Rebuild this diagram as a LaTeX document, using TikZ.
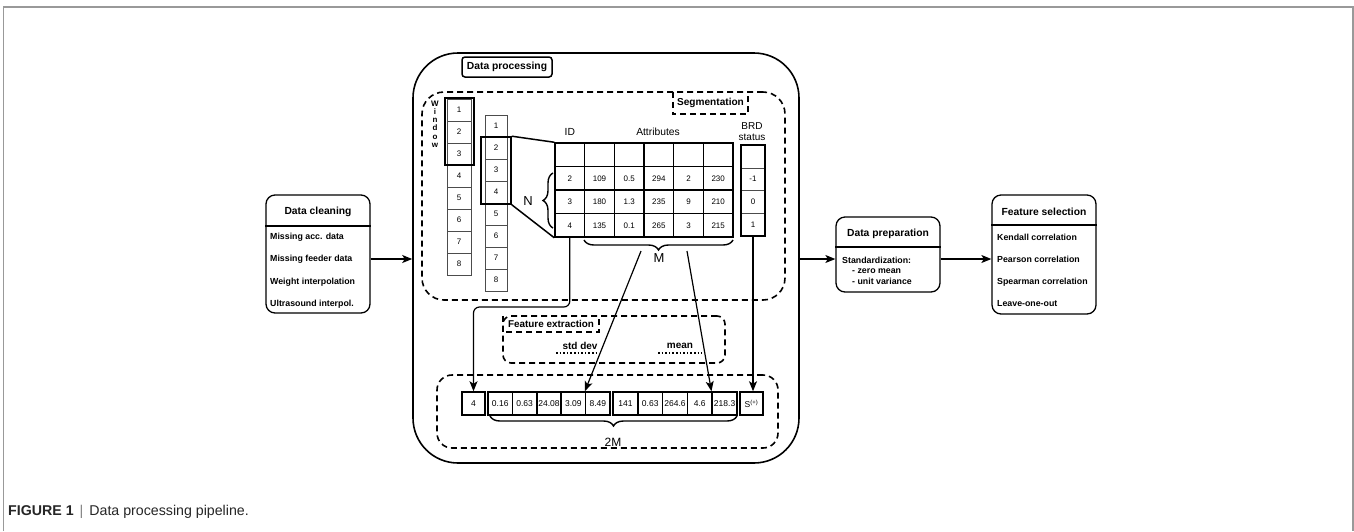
\documentclass[tikz,border=0pt]{standalone}
\usepackage{fontspec}
\setmainfont{Liberation Sans}
\usetikzlibrary{arrows.meta,decorations.pathreplacing,calc}
\begin{document}
\begin{tikzpicture}[x=1pt,y=-1pt,
  arr/.style={line width=1.2pt,-{Stealth[length=10pt,width=8pt,inset=2.5pt]}},
  pbox/.style={draw,line width=1.3pt,rounded corners=9pt,minimum width=104pt,inner sep=0},
  ttl/.style={font=\fontsize{10.3}{12}\selectfont\bfseries,inner sep=0},
  itm/.style={font=\fontsize{8.8}{10}\selectfont\bfseries,anchor=west,inner sep=0},
  dsh/.style={line width=1.6pt,dash pattern=on 6pt off 4pt},
  wcell/.style={draw=black!70,line width=0.8pt,minimum height=22pt,inner sep=0,font=\fontsize{8}{9}\selectfont},
  tcell/.style={draw,line width=1.5pt,minimum width=29.667pt,minimum height=23.5pt,inner sep=0,font=\fontsize{8}{9}\selectfont},
  bcell/.style={draw=black!70,line width=0.8pt,minimum width=24pt,inner sep=0,font=\fontsize{8}{9}\selectfont},
  fcell/.style={draw,line width=1.5pt,minimum height=23pt,inner sep=0,font=\fontsize{8.5}{9}\selectfont},
  thk/.style={draw,line width=1.6pt,inner sep=0},
  brc/.style={decorate,line width=1.4pt,decoration={brace,amplitude=10pt}},
  lbl/.style={font=\fontsize{10.3}{12}\selectfont,inner sep=0},
  big/.style={font=\fontsize{13}{14}\selectfont,inner sep=0},
  dotu/.style={line width=1.6pt,dotted}
]
\useasboundingbox (0,0) rectangle (1354,531);
\fill[white] (0,0) rectangle (1354,531);
% frame
\draw[black!40,line width=1.1pt] (3.5,531) -- (3.5,7) -- (1353,7) -- (1353,531);

% Data cleaning
\node[pbox,minimum height=118pt] (dclean) at (318,254) {};
\draw[line width=1.3pt] (dclean.west |- 0,226) -- (dclean.east |- 0,226);
\node[ttl] (dcT) at (318,212) {Data cleaning};
\node[itm] (dc1) at (270,237) {Missing acc. data};
\node[itm] (dc2) at (270,259) {Missing feeder data};
\node[itm] (dc3) at (270,282) {Weight interpolation};
\node[itm] (dc4) at (270,304) {Ultrasound interpol.};

% Data processing big box
\node[draw,line width=1.6pt,rounded corners=45pt,minimum width=386pt,minimum height=410pt,inner sep=0] (dproc) at (606,258) {};
\node[draw,line width=1.5pt,rounded corners=3pt,minimum width=90pt,minimum height=20pt,inner sep=0,font=\fontsize{10.3}{12}\selectfont\bfseries] (dplab) at (507,67) {Data processing};

% Segmentation region
\node[draw,dsh,rounded corners=22pt,minimum width=363pt,minimum height=208pt,inner sep=0] (seg) at (603.5,196) {};
\node[minimum width=75pt,minimum height=22pt,inner sep=0,font=\fontsize{10.1}{12}\selectfont\bfseries] (seglab) at (710.5,103) {Segmentation};
\draw[dsh] (seglab.north west) -- (seglab.south west) -- (seglab.south east) -- (seglab.north east);

% Window column 1
\foreach \i in {1,...,8}
  \node[wcell,minimum width=24pt] (wa\i) at (459,{88+22*\i}) {\i};
\node[thk,minimum width=29pt,minimum height=67pt] (win1) at (459.5,131.5) {};
\node[font=\fontsize{8}{8.3}\selectfont\bfseries,align=center,inner sep=0] (wtxt) at (435,124) {W\\i\\n\\d\\o\\w};

% Window column 2
\foreach \i in {1,...,8}
  \node[wcell,minimum width=22pt] (wb\i) at (496,{104+22*\i}) {\i};
\node[thk,minimum width=30pt,minimum height=67pt] (win2) at (496,170.5) {};

% Table
\foreach \c in {1,...,6}
  \node[tcell] (t0\c) at ({555+29.667*(\c-0.5)},154.75) {};
\foreach \c/\v in {1/2,2/109,3/0.5,4/294,5/2,6/230}
  \node[tcell] (t1\c) at ({555+29.667*(\c-0.5)},178.25) {\v};
\foreach \c/\v in {1/3,2/180,3/1.3,4/235,5/9,6/210}
  \node[tcell] (t2\c) at ({555+29.667*(\c-0.5)},201.75) {\v};
\foreach \c/\v in {1/4,2/135,3/0.1,4/265,5/3,6/215}
  \node[tcell] (t3\c) at ({555+29.667*(\c-0.5)},225.25) {\v};
\draw[line width=1.5pt] (win2.north east) -- (t01.north west);
\draw[line width=1.5pt] (win2.south east) -- (t31.south west);

\node[lbl] (idl) at (569.8,132) {ID};
\node[lbl] (attl) at (658,132) {Attributes};
\node[lbl,align=center,font=\fontsize{10}{11}\selectfont] (brdl) at (752,131.5) {BRD\\status};

% BRD column
\node[bcell,minimum height=23pt] (b0) at (753,156.5) {};
\node[bcell,minimum height=22pt] (b1) at (753,179) {-1};
\node[bcell,minimum height=23pt] (b2) at (753,201.5) {0};
\node[bcell,minimum height=23pt] (b3) at (753,224.5) {1};
\node[thk,minimum width=24pt,minimum height=91pt] (brd) at (753,190.5) {};

% N brace
\draw[brc] (553,228) -- (553,173);
\node[big] (nl) at (528,201) {N};
% M brace
\draw[brc] (733,240) -- (584,240);
\node[big] (ml) at (659,258) {M};
\coordinate (mL) at (641,251);
\coordinate (mR) at (687,251);

% Feature extraction
\node[draw,dsh,rounded corners=8pt,minimum width=222pt,minimum height=47pt,inner sep=0] (fx) at (614,339.5) {};
\node[minimum width=96pt,minimum height=16pt,inner sep=0,font=\fontsize{9.9}{11}\selectfont\bfseries] (fxlab) at (551,324) {Feature extraction};
\draw[dsh] (fxlab.north west) -- (fxlab.south west) -- (fxlab.south east) -- (fxlab.north east);
\node[font=\fontsize{10}{11}\selectfont\bfseries,inner sep=0] (sd) at (580,346) {std dev};
\draw[dotu] (556,353) -- (598,353);
\node[font=\fontsize{10}{11}\selectfont\bfseries,inner sep=0] (mn) at (680,346) {mean};
\draw[dotu] (658,353) -- (702,353);

% Bottom region
\node[draw,dsh,rounded corners=15pt,minimum width=341pt,minimum height=73pt,inner sep=0] (bot) at (607.5,411.5) {};
\node[fcell,minimum width=23pt] (f4) at (473.5,403.5) {4};
\foreach \i/\v in {1/0.16,2/0.63,3/24.08,4/3.09,5/8.49}
  \node[fcell,minimum width=24.4pt] (ga\i) at ({488+24.4*(\i-0.5)},403.5) {\v};
\foreach \i/\v in {1/141,2/0.63,3/264.6,4/4.6,5/218.3}
  \node[fcell,minimum width=24.8pt] (gb\i) at ({613+24.8*(\i-0.5)},403.5) {\v};
\node[fcell,minimum width=23pt] (sp) at (751.5,403.5) {S\textsuperscript{(+)}};
\draw[brc] (737,416) -- (490,416);
\node[font=\fontsize{12}{13}\selectfont,inner sep=0] (tm) at (613,442) {2M};

% connectors inside
\coordinate (idy) at (0,307);
\draw[arr,rounded corners=6pt] (t31.south) -- (t31.south |- idy) -- (f4.north |- idy) -- (f4.north);
\draw[arr] (mL) -- (ga5.north west);
\draw[arr] (mR) -- (gb5.north west);
\draw[arr] (brd.south) -- (brd.south |- sp.north);

% Data preparation
\node[pbox,minimum height=75pt] (dprep) at (888,254.5) {};
\draw[line width=1.3pt] (dprep.west |- 0,247) -- (dprep.east |- 0,247);
\node[ttl] (dpT) at (888,234) {Data preparation};
\node[itm] (dp1) at (842,260) {Standardization:};
\node[itm] (dp2) at (852,271) {- zero mean};
\node[itm] (dp3) at (852,281.5) {- unit variance};

% Feature selection
\node[pbox,minimum height=119pt] (fsel) at (1044,254.5) {};
\draw[line width=1.3pt] (fsel.west |- 0,225) -- (fsel.east |- 0,225);
\node[ttl] (fsT) at (1044,212) {Feature selection};
\node[itm] (fs1) at (997,237) {Kendall correlation};
\node[itm] (fs2) at (997,259) {Pearson correlation};
\node[itm] (fs3) at (997,282) {Spearman correlation};
\node[itm] (fs4) at (997,304) {Leave-one-out};

% main arrows
\draw[arr] (dclean.east |- 0,259) -- (dproc.west |- 0,259);
\draw[arr] (dproc.east |- 0,259) -- (dprep.west |- 0,259);
\draw[arr] (dprep.east |- 0,259) -- (fsel.west |- 0,259);

% caption
\node[anchor=west,inner sep=0,font=\fontsize{14.2}{16}\selectfont,text=black!85] (cap) at (8,512) {\textbf{FIGURE 1}\hspace{6pt}{\color{black!50}|}\hspace{6pt}Data processing pipeline.};
\end{tikzpicture}
\end{document}
